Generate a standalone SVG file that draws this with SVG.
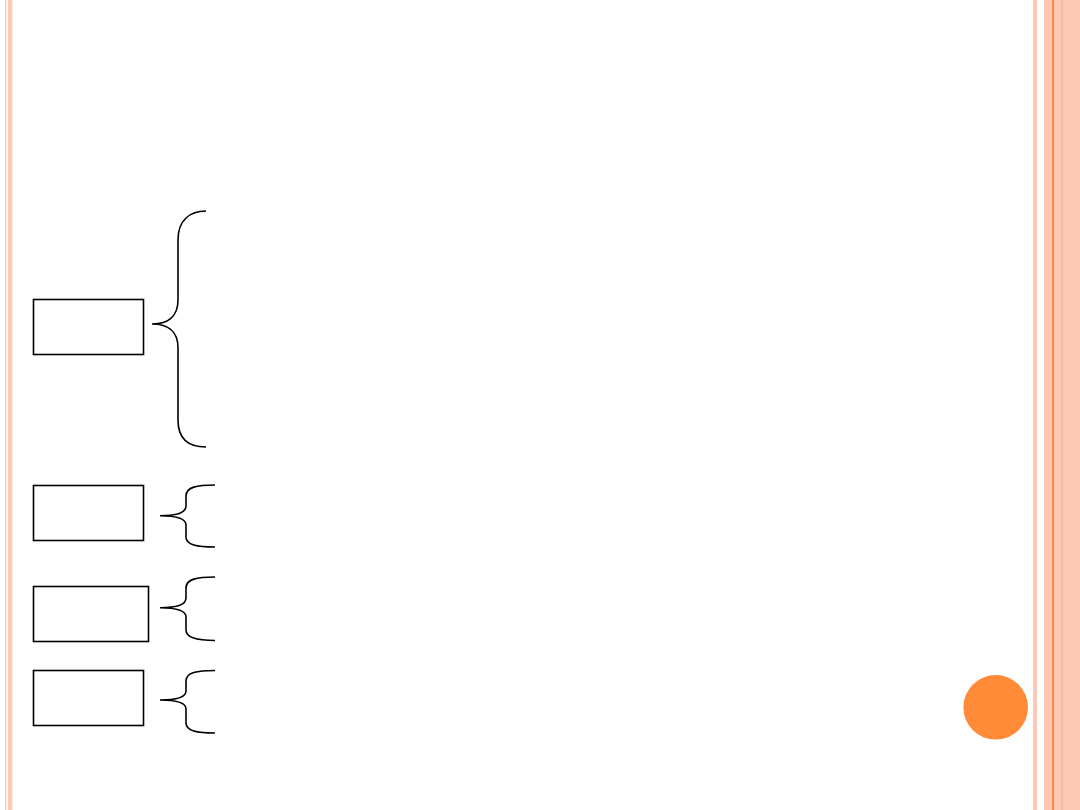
<svg xmlns="http://www.w3.org/2000/svg" width="1080" height="810" viewBox="0 0 1080 810">
<style>
.band{fill:#FDC8B4}
.box{fill:#FFFFFF;stroke:#000000;stroke-width:1.6}
.brace{fill:none;stroke:#000000;stroke-width:1.6}
</style>
<rect x="0" y="0" width="1080" height="810" fill="#FFFFFF"/>
<g id="frame">
<rect class="band" x="5" y="0" width="1.4" height="810"/>
<rect class="band" x="8" y="0" width="4.4" height="810"/>
<rect class="band" x="1033" y="0" width="4" height="810"/>
<rect class="band" x="1044" y="0" width="36" height="810"/>
<rect x="1052" y="0" width="2" height="810" fill="#FF8A3C"/>
<rect x="1061" y="0" width="2" height="810" fill="#F9BAA2"/>
</g>
<g id="node1"><rect class="box" x="33.5" y="299.5" width="110" height="55"/></g>
<g id="node2"><rect class="box" x="33.5" y="485.5" width="110" height="55"/></g>
<g id="node3"><rect class="box" x="33.5" y="586.5" width="115" height="55"/></g>
<g id="node4"><rect class="box" x="33.5" y="670.5" width="110" height="55"/></g>
<g id="connectors">
<path class="brace" d="M206,211 C190,211 178,220 178,240 L178,300 C178,318 166,324 152,324 C166,324 178,330 178,348 L178,420 C178,440 190,447 206,447"/>
<path class="brace" d="M215,485 C197,485 186,487 186,496 L186,506 C186,513 176,515.7 160,515.7 C176,515.7 186,518 186,525 L186,537 C186,545 197,547 215,547"/>
<path class="brace" d="M215,577 C197,577 186,579 186,588 L186,598 C186,605 176,607.7 160,607.7 C176,607.7 186,610 186,617 L186,630 C186,638 197,640.5 215,640.5"/>
<path class="brace" d="M215,670.5 C197,670.5 186,672.5 186,681 L186,691 C186,698 176,700 160,700 C176,700 186,702.5 186,709 L186,723 C186,731 197,733 215,733"/>
</g>
<g id="dot"><circle cx="995.7" cy="707.3" r="32.3" fill="#FF8A38"/></g>
</svg>
